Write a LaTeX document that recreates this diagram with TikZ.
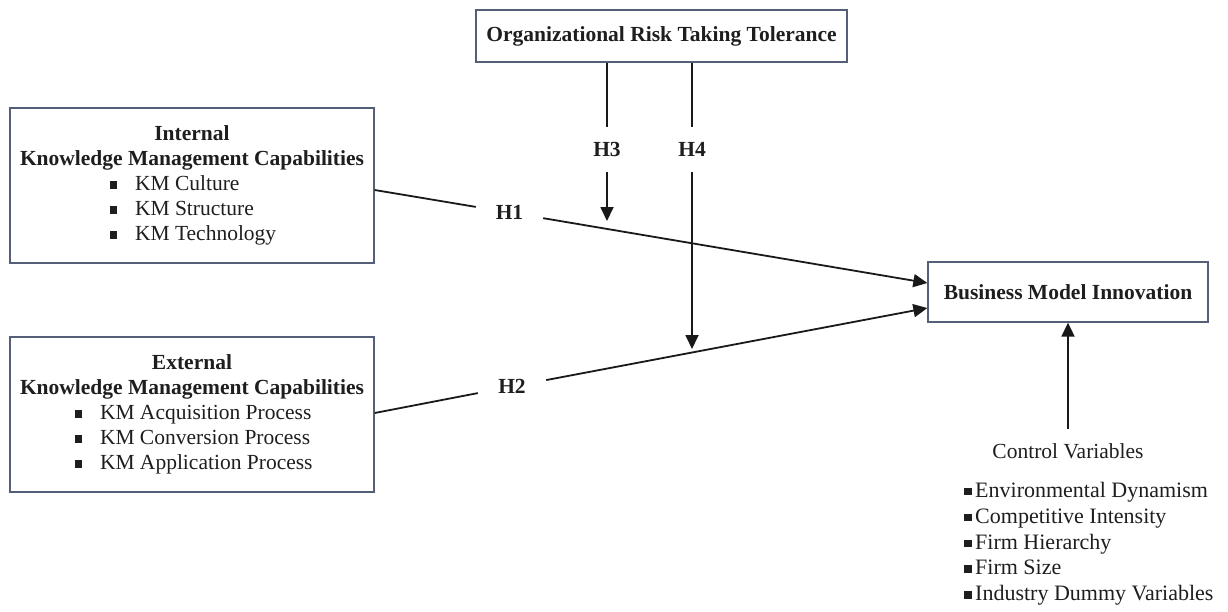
\documentclass[tikz,border=0pt]{standalone}
\usepackage{fontspec}
\setmainfont{Liberation Serif}
\usetikzlibrary{arrows.meta,calc}
\definecolor{boxline}{RGB}{85,95,120}
\definecolor{txt}{RGB}{30,30,30}
\begin{document}
\begin{tikzpicture}[x=1pt,y=-1pt,
  every node/.style={font=\fontsize{21.5}{25}\selectfont,text=txt},
  box/.style={draw=boxline,line width=1.3pt,inner sep=0pt,align=center},
  hyp/.style={font=\fontsize{21.5}{25}\selectfont\bfseries,inner sep=0pt,minimum height=45pt},
  conn/.style={line width=1.8pt,black!90},
  arr/.style={conn,-{Triangle[length=14pt,width=13pt]}}]
\useasboundingbox (0,0) rectangle (1228,611);
\newcommand{\blt}{\rule[2pt]{7.5pt}{7.5pt}}
% boxes
\node[box,minimum width=371pt,minimum height=52pt] (ort) at (661.5,36) {\textbf{Organizational Risk Taking Tolerance}};
\node[box,minimum width=364pt,minimum height=155pt] (int) at (192,185.5) {\textbf{Internal}\\ \textbf{Knowledge Management Capabilities}\\
  \makebox[165pt][l]{\blt\hspace{18pt}KM Culture}\\
  \makebox[165pt][l]{\blt\hspace{18pt}KM Structure}\\
  \makebox[165pt][l]{\blt\hspace{18pt}KM Technology}};
\node[box,minimum width=364pt,minimum height=155pt] (ext) at (192,414.5) {\textbf{External}\\ \textbf{Knowledge Management Capabilities}\\
  \makebox[235pt][l]{\blt\hspace{18pt}KM Acquisition Process}\\
  \makebox[235pt][l]{\blt\hspace{18pt}KM Conversion Process}\\
  \makebox[235pt][l]{\blt\hspace{18pt}KM Application Process}};
\node[box,minimum width=280pt,minimum height=60pt] (bmi) at (1068,292) {\textbf{Business Model Innovation}};
% hypothesis labels
\node[hyp,minimum width=67pt] (h1) at (509.5,212.5) {H1};
\node[hyp,minimum width=68pt] (h2) at (512,386.5) {H2};
\node[hyp] (h3) at (607,149.5) {H3};
\node[hyp] (h4) at (692,149.5) {H4};
\coordinate (h3end) at (607,221);
\coordinate (h4end) at (692,349);
% control variables
\node[inner sep=0pt] (cv) at (1068,451) {Control Variables};
\node[inner sep=0pt,anchor=north west,align=left,font=\fontsize{22}{25.8}\selectfont] (cvl) at (964,482) {%
  \rule[2pt]{8pt}{7.5pt}\hspace{3pt}Environmental Dynamism\\
  \rule[2pt]{8pt}{7.5pt}\hspace{3pt}Competitive Intensity\\
  \rule[2pt]{8pt}{7.5pt}\hspace{3pt}Firm Hierarchy\\
  \rule[2pt]{8pt}{7.5pt}\hspace{3pt}Firm Size\\
  \rule[2pt]{8pt}{7.5pt}\hspace{3pt}Industry Dummy Variables};
% connectors
\draw[conn] ($(int.east)+(0,4.5)$) -- (h1);
\draw[arr] (h1) -- ($(bmi.west)+(0,-9)$);
\draw[conn] ($(ext.east)+(0,-1.5)$) -- (h2);
\draw[arr] (h2) -- ($(bmi.west)+(0,16)$);
\draw[conn] (ort.south -| h3) -- (h3);
\draw[arr] (h3) -- (h3end);
\draw[conn] (ort.south -| h4) -- (h4);
\draw[arr] (h4) -- (h4end);
\draw[arr] ($(cv.north)+(0,-14)$) -- (bmi.south);
\end{tikzpicture}
\end{document}
